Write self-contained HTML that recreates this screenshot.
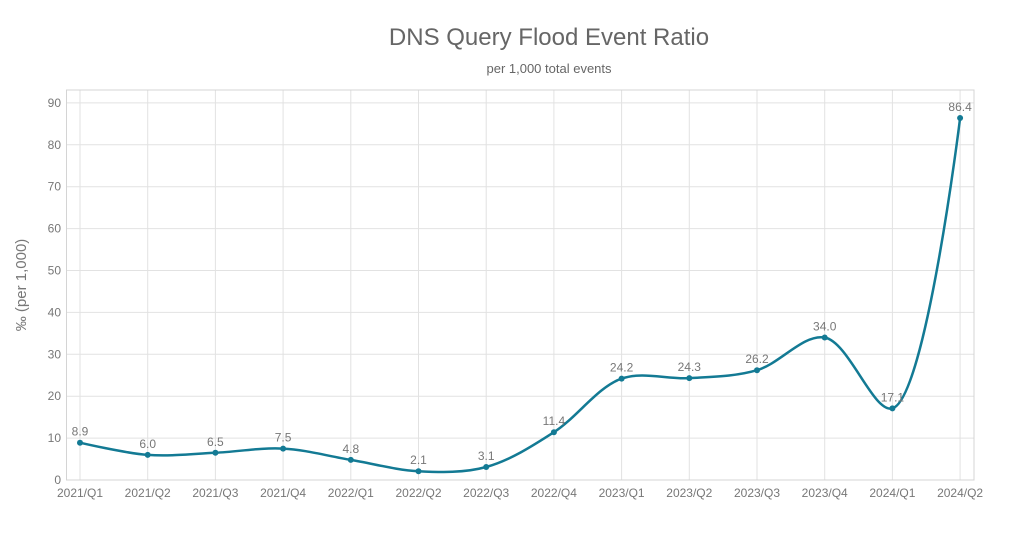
<!DOCTYPE html>
<html><head><meta charset="utf-8"><style>
body{margin:0;background:#fff;width:1028px;height:538px;overflow:hidden;font-family:"Liberation Sans",sans-serif}
</style></head><body>
<svg id="s" width="1028" height="538" xmlns="http://www.w3.org/2000/svg" font-family="Liberation Sans, sans-serif">
<text x="549" y="45" text-anchor="middle" font-size="24" fill="#666">DNS Query Flood Event Ratio</text>
<text x="549" y="73" text-anchor="middle" font-size="13" fill="#666">per 1,000 total events</text>
<text transform="translate(26,285) rotate(-90)" text-anchor="middle" font-size="15" fill="#777">‰ (per 1,000)</text>
<g id="g"></g>
</svg>
<script>
const g=document.getElementById('g');
const L=66.5,T=90,R=974,B=480;
const yv=v=>480-v*4.19, xv=i=>80+i*67.7;
let h='';
for(let v=0;v<=90;v+=10){const y=yv(v);h+=`<line x1="${L}" x2="${R}" y1="${y}" y2="${y}" stroke="#e2e2e2"/><text x="61" y="${y+4}" text-anchor="end" font-size="12" fill="#777">${v}</text>`;}
const labs=['2021/Q1','2021/Q2','2021/Q3','2021/Q4','2022/Q1','2022/Q2','2022/Q3','2022/Q4','2023/Q1','2023/Q2','2023/Q3','2023/Q4','2024/Q1','2024/Q2'];
const d=[8.9,6.0,6.5,7.5,4.8,2.1,3.1,11.4,24.2,24.3,26.2,34.0,17.1,86.4];
labs.forEach((l,i)=>{const x=xv(i);h+=`<line x1="${x}" x2="${x}" y1="${T}" y2="${B}" stroke="#e2e2e2"/><text x="${x}" y="497" text-anchor="middle" font-size="12" fill="#777">${l}</text>`;});
h+=`<rect x="${L}" y="${T}" width="${R-L}" height="${B-T}" fill="none" stroke="#d4d4d4"/>`;
const P=d.map((v,i)=>[xv(i),yv(v)]);
const dist=(a,b)=>Math.hypot(a[0]-b[0],a[1]-b[1]);
let p=`M${P[0][0]},${P[0][1]}`;
for(let i=0;i<P.length-1;i++){
 const p0=P[i-1]||P[i],p1=P[i],p2=P[i+1],p3=P[i+2]||P[i+1];
 const l01=Math.sqrt(dist(p0,p1)),l12=Math.sqrt(dist(p1,p2)),l23=Math.sqrt(dist(p2,p3));
 const l01b=l01*l01,l12b=l12*l12,l23b=l23*l23;
 let c1=[p1[0],p1[1]],c2=[p2[0],p2[1]];
 if(l01>1e-6){const a=2*l01b+3*l01*l12+l12b,n=3*l01*(l01+l12);
  for(let k=0;k<2;k++)c1[k]=(p1[k]*a-p0[k]*l12b+p2[k]*l01b)/n;}
 if(l23>1e-6){const b=2*l23b+3*l23*l12+l12b,m=3*l23*(l23+l12);
  for(let k=0;k<2;k++)c2[k]=(p2[k]*b+p1[k]*l23b-p3[k]*l12b)/m;}
 p+=` C${c1[0]},${c1[1]} ${c2[0]},${c2[1]} ${p2[0]},${p2[1]}`;
}
h+=`<path d="${p}" fill="none" stroke="#137a94" stroke-width="2.5"/>`;
P.forEach((q,i)=>{h+=`<circle cx="${q[0]}" cy="${q[1]}" r="3" fill="#137a94"/><text x="${q[0]}" y="${q[1]-7}" text-anchor="middle" font-size="12" fill="#777">${d[i].toFixed(1)}</text>`;});
g.innerHTML=h;
</script>
</body></html>
